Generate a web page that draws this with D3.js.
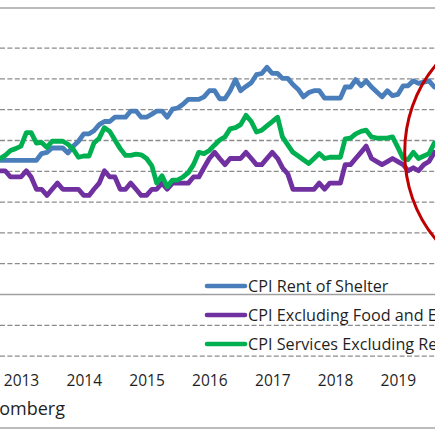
<!DOCTYPE html>
<html>
<head>
<meta charset="utf-8">
<script src="https://cdn.jsdelivr.net/npm/d3@7"></script>
<style>
  html, body { margin: 0; padding: 0; background: #fff; }
  svg { display: block; font-family: "Open Sans", "Noto Sans", sans-serif; }
</style>
</head>
<body>
<div id="chart"></div>
<script>
// monthly y/y % change, Sep 2012 - Aug 2019
const startMonth = new Date(2012, 8, 1);
const endMonth = new Date(2019, 7, 1);

const rentOfShelter = [
  2.17, 2.17, 2.17, 2.17, 2.17, 2.17, 2.17, 2.17, 2.28, 2.3,
  2.37, 2.37, 2.37, 2.29, 2.4, 2.48, 2.6, 2.6, 2.65, 2.75,
  2.8, 2.8, 2.87, 2.87, 2.87, 2.97, 2.97, 2.87, 2.87, 2.92,
  2.97, 2.97, 2.87, 3.0, 3.02, 3.08, 3.16, 3.16, 3.16, 3.2,
  3.3, 3.3, 3.17, 3.17, 3.3, 3.48, 3.3, 3.37, 3.43, 3.56,
  3.58, 3.68, 3.58, 3.58, 3.5, 3.5, 3.4, 3.32, 3.2, 3.27,
  3.3, 3.3, 3.18, 3.18, 3.18, 3.18, 3.36, 3.36, 3.48, 3.38,
  3.46, 3.36, 3.28, 3.2, 3.3, 3.22, 3.24, 3.38, 3.38, 3.46,
  3.42, 3.44, 3.46, 3.36
];

const coreCpi = [
  2.0, 2.0, 1.9, 1.9, 1.9, 2.0, 1.9, 1.7, 1.7, 1.6,
  1.7, 1.8, 1.7, 1.7, 1.7, 1.7, 1.6, 1.6, 1.7, 1.8,
  2.0, 1.9, 1.9, 1.7, 1.7, 1.8, 1.7, 1.6, 1.6, 1.7,
  1.7, 1.8, 1.7, 1.8, 1.8, 1.8, 1.8, 1.9, 1.9, 2.05,
  2.2, 2.3, 2.2, 2.1, 2.2, 2.2, 2.2, 2.3, 2.2, 2.1,
  2.1, 2.2, 2.3, 2.2, 2.05, 1.95, 1.7, 1.7, 1.7, 1.7,
  1.7, 1.8, 1.7, 1.8, 1.8, 1.8, 2.1, 2.1, 2.2, 2.3,
  2.4, 2.2, 2.15, 2.1, 2.15, 2.2, 2.15, 2.1, 2.0, 2.05,
  2.0, 2.1, 2.15, 2.3
];

const servicesExRent = [
  2.2, 2.25, 2.33, 2.36, 2.4, 2.62, 2.62, 2.45, 2.46, 2.38,
  2.48, 2.48, 2.48, 2.43, 2.35, 2.22, 2.24, 2.24, 2.45, 2.53,
  2.7, 2.64, 2.5, 2.36, 2.25, 2.25, 2.27, 2.26, 2.2, 2.08,
  1.8, 1.92, 1.74, 1.85, 1.85, 1.9, 1.97, 2.1, 2.3, 2.28,
  2.33, 2.42, 2.5, 2.55, 2.68, 2.7, 2.75, 2.9, 2.8, 2.63,
  2.66, 2.73, 2.8, 2.87, 2.55, 2.42, 2.3, 2.24, 2.18, 2.12,
  2.2, 2.28, 2.2, 2.22, 2.22, 2.22, 2.52, 2.53, 2.6, 2.64,
  2.66, 2.55, 2.53, 2.53, 2.53, 2.55, 2.38, 2.2, 2.18, 2.3,
  2.2, 2.24, 2.28, 2.45
];

const seriesNames = [
  'CPI Rent of Shelter',
  'CPI Excluding Food and Energy',
  'CPI Services Excluding Rent of Shelter'
];
const seriesColors = ['#4A7EBB', '#7030A0', '#00B050'];
const yearLabels = [2013, 2014, 2015, 2016, 2017, 2018, 2019];
const gridLevels = [-1, -0.5, 0, 0.5, 1, 1.5, 2, 2.5, 3, 3.5, 4];

const width = 435, height = 435;

const svg = d3.select('#chart')
  .append('svg')
  .attr('width', width)
  .attr('height', height);

svg.append('rect')
  .attr('width', width)
  .attr('height', height)
  .attr('fill', '#fff');

const months = d3.timeMonth.range(startMonth, d3.timeMonth.offset(endMonth, 1));

const x = d3.scaleTime()
  .domain([startMonth, endMonth])
  .range([0, 434.3]);

const y = d3.scaleLinear()
  .domain([-1, 4])
  .range([355.6, 47.6]);

// frame lines
svg.append('line')
  .attr('x1', 0).attr('x2', width)
  .attr('y1', 8).attr('y2', 8)
  .attr('stroke', '#a6a6a6').attr('stroke-width', 1.6);
svg.append('line')
  .attr('x1', 0).attr('x2', width)
  .attr('y1', 428).attr('y2', 428)
  .attr('stroke', '#a6a6a6').attr('stroke-width', 1.6);

// gridlines
const grid = svg.append('g')
  .attr('class', 'grid')
  .call(d3.axisLeft(y).tickValues(gridLevels).tickSize(-width).tickFormat(''));
grid.select('.domain').remove();
grid.selectAll('.tick line')
  .attr('stroke', d => d === 0 ? '#a0a0a0' : '#8c8c8c')
  .attr('stroke-width', d => d === 0 ? 1.6 : 1.3)
  .attr('stroke-dasharray', d => d === 0 ? null : '5,2.4');

// x axis labels
const xAxis = svg.append('g')
  .attr('class', 'x-axis')
  .attr('transform', `translate(0,${y(-1)})`)
  .call(d3.axisBottom(x)
    .tickValues(yearLabels.map(yr => new Date(yr, 0, 1)))
    .tickFormat(d3.timeFormat('%Y'))
    .tickSize(0));
xAxis.select('.domain').remove();
xAxis.selectAll('text')
  .attr('y', 30.5)
  .attr('dy', 0)
  .attr('fill', '#1f1f1f')
  .style('font-size', '15.5px')
  .style('font-family', '"Open Sans", "Noto Sans", sans-serif');

// series lines
const line = d3.line()
  .x((d, i) => x(months[i]))
  .y(d => y(d));

const allSeries = [rentOfShelter, coreCpi, servicesExRent];

svg.selectAll('.series')
  .data(allSeries)
  .enter()
  .append('path')
  .attr('class', 'series')
  .attr('d', d => line(d))
  .attr('fill', 'none')
  .attr('stroke', (d, i) => seriesColors[i])
  .attr('stroke-width', 4.8)
  .attr('stroke-linejoin', 'round')
  .attr('stroke-linecap', 'round');

// legend
const legend = svg.append('g')
  .attr('class', 'legend')
  .attr('transform', 'translate(205,286)');

const items = legend.selectAll('.item')
  .data(seriesNames)
  .enter()
  .append('g')
  .attr('class', 'item')
  .attr('transform', (d, i) => `translate(0,${i * 29})`);

items.append('line')
  .attr('x1', 2).attr('x2', 40)
  .attr('stroke', (d, i) => seriesColors[i])
  .attr('stroke-width', 4.6)
  .attr('stroke-linecap', 'round');

items.append('text')
  .attr('x', 43)
  .attr('y', 5.8)
  .attr('fill', '#1f1f1f')
  .style('font-size', '16.2px')
  .text(d => d);

// source note
svg.append('text')
  .attr('x', 65)
  .attr('y', 415)
  .attr('text-anchor', 'end')
  .attr('fill', '#1f1f1f')
  .style('font-size', '18px')
  .text('Source: Bloomberg');

// red highlight ellipse around the latest months
const ellipseLeft = x(new Date(2019, 1, 10));
const rx = 110, ry = 125;
svg.append('ellipse')
  .attr('cx', ellipseLeft + rx)
  .attr('cy', y(2.3))
  .attr('rx', rx)
  .attr('ry', ry)
  .attr('fill', 'none')
  .attr('stroke', '#C00000')
  .attr('stroke-width', 3);
</script>
</body>
</html>
